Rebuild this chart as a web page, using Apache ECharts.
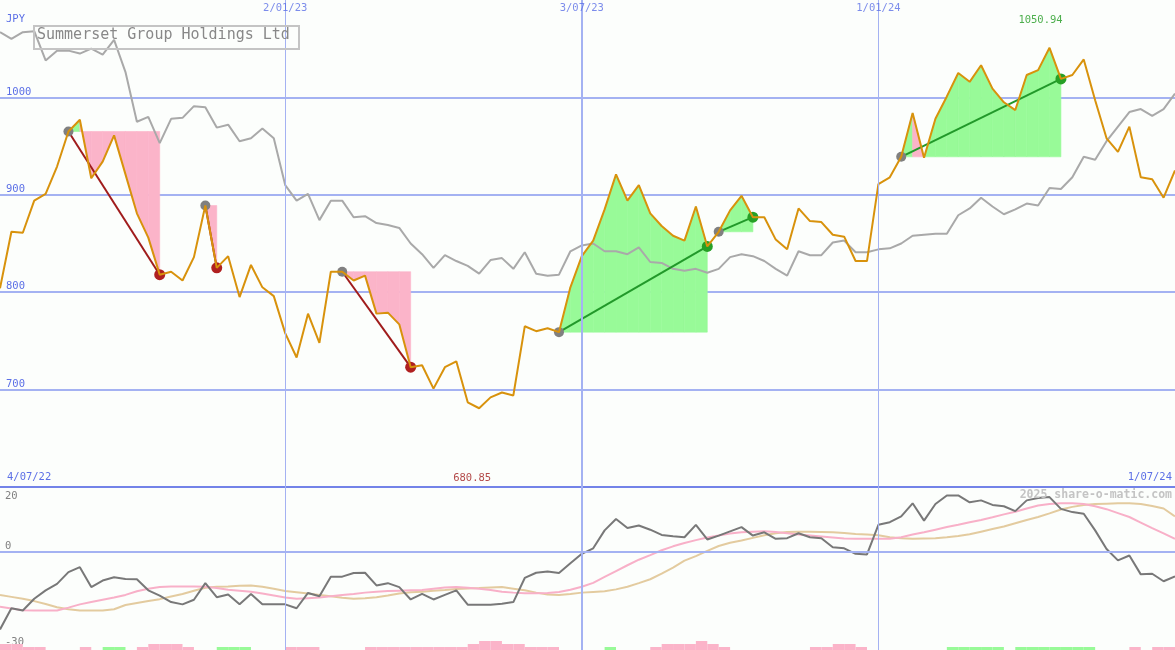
<!DOCTYPE html>
<html>
<head>
<meta charset="utf-8">
<script src="https://cdn.jsdelivr.net/npm/echarts@6/dist/echarts.min.js"></script>
<style>
html,body{margin:0;padding:0;background:#fcfefc;}
#chart{width:1175px;height:650px;}
</style>
</head>
<body>
<div id="chart"></div>
<script>
// ---- data (weekly points, index 0..103) ----
const price = [804,862,861,894,901,929,965,977,917,934,961,921,881,856,818,821,812,836,889,825,
837,795,828,805,796,758,733,778,748,821,821,812,817,778,779,767,723,725,701,723,
729,687,680.85,692,697,694,765,760,763,759,805,837,853,885,921,894,910,881,868,858,
853,888,847,862,884,899,877,877,854,844,886,873,872,859,857,832,832,911,918,939,
984,938,978,1001,1025,1016,1033,1009,995,987,1023,1028,1050.94,1019,1023,1039,997,958,944,970,
918,916,897,925];
const compare = [1067,1060,1067,1068,1038,1048,1048,1045,1050,1044,1059,1026,975,980,953,978,979,991,990,969,
972,955,958,968,958,910,894,901,874,894,894,877,878,871,869,866,850,839,825,838,
832,827,819,833,835,824,841,819,817,818,842,848,850,842,842,839,846,831,830,824,
822,824,820,824,836,839,837,832,824,817,842,838,838,851,853,841,841,844,845,850,
858,859,860,860,879,886,897,888,880,885,891,889,907,906,918,939,936,955,970,985,
988,981,988,1004];
const osc = [-23.7,-17.2,-17.9,-14.3,-11.7,-9.7,-6.1,-4.6,-10.7,-8.7,-7.7,-8.2,-8.3,-11.7,-13.3,-15.3,-16,-14.6,-9.5,-13.8,
-13,-16,-12.8,-16,-16,-16,-17.2,-12.5,-13.5,-7.5,-7.5,-6.4,-6.3,-10.2,-9.5,-10.7,-14.5,-12.8,-14.5,-13.1,
-11.7,-16.1,-16.1,-16.1,-15.8,-15.3,-7.9,-6.3,-5.9,-6.4,-3.4,-0.5,1.2,6.7,10.2,7.4,8.2,6.9,5.3,4.9,
4.6,8.4,3.9,5.1,6.4,7.7,5.1,6.1,4.1,4.3,5.8,4.6,4.3,1.5,1.2,-0.5,-0.7,8.4,9.2,11,
15,9.7,14.8,17.4,17.4,15.3,15.9,14.5,14.1,12.6,15.9,16.6,16.9,13.3,12.3,11.8,6.7,1,-2.5,-1,
-6.8,-6.6,-8.9,-7.4];
const maFast = [-16.7,-17.3,-17.8,-17.9,-17.9,-17.9,-17,-16,-15.3,-14.6,-13.9,-13.1,-12,-11.2,-10.7,-10.5,-10.5,-10.5,-10.6,-11,
-11.5,-11.8,-12.1,-12.7,-13.3,-13.9,-14.3,-14.1,-13.9,-13.5,-13.1,-12.8,-12.4,-12.1,-11.9,-11.8,-11.7,-11.6,-11.2,-10.8,
-10.7,-10.9,-11.2,-11.6,-12.1,-12.4,-12.6,-12.6,-12.5,-12.2,-11.5,-10.6,-9.4,-7.6,-5.8,-4,-2.3,-0.9,0.6,1.8,
2.8,3.7,4.5,5.1,5.7,6.1,6.3,6.4,6.2,5.8,5.4,5.1,4.8,4.5,4.2,4.1,4.1,4.1,4.1,4.6,
5.4,6.1,6.9,7.7,8.4,9.2,9.9,10.7,11.6,12.4,13.4,14.3,14.8,15,15,14.8,14.1,13.2,12,10.8,
9.1,7.4,5.8,4.1];
const maSlow = [-13.1,-13.7,-14.3,-15,-15.9,-16.9,-17.5,-17.9,-17.9,-17.9,-17.5,-16.2,-15.6,-15,-14.4,-13.6,-12.8,-11.8,-10.9,-10.6,
-10.5,-10.3,-10.2,-10.6,-11.2,-11.9,-12.3,-12.7,-13.1,-13.5,-14,-14.3,-14.1,-13.8,-13.3,-12.7,-12.3,-12.1,-11.8,-11.6,
-11.3,-11.1,-11,-10.8,-10.7,-11.2,-11.7,-12.4,-13,-13.1,-12.8,-12.4,-12.2,-12,-11.4,-10.6,-9.5,-8.3,-6.6,-4.7,
-2.6,-1.2,0.4,1.9,2.9,3.6,4.4,5.2,5.8,6.2,6.3,6.3,6.2,6.1,5.9,5.6,5.4,5.2,4.6,4.3,
4.1,4.2,4.3,4.6,5,5.5,6.3,7.1,7.9,8.9,9.9,10.8,11.9,13.1,13.9,14.5,14.8,14.9,15,15,
14.8,14.2,13.4,11];
const hist = [-2,-2,-1,-1,0,0,0,-1,0,1,1,0,-1,-2,-2,-2,-1,0,0,1,
1,1,0,0,0,-1,-1,-1,0,0,0,0,-1,-1,-1,-1,-1,-1,-1,-1,
-1,-2,-3,-3,-2,-2,-1,-1,-1,0,0,0,0,1,0,0,0,-1,-2,-2,
-2,-3,-2,-1,0,0,0,0,0,0,0,-1,-1,-2,-2,-1,0,0,0,0,
0,0,0,1,1,1,1,1,0,1,1,1,1,1,1,1,0,0,0,-1,
0,-1,-1,0];
const trendStart = [6, 18, 30, 49, 63, 79];
const trendEnd   = [14, 19, 36, 62, 66, 93];
const dateIdx    = [25, 51, 77];
const dateLabels = ['2/01/23', '3/07/23', '1/01/24'];
const rangeLabels = ['4/07/22', '1/07/24'];
const title = 'Summerset Group Holdings Ltd';
const currency = 'JPY';
const watermark = '2025 share-o-matic.com';

// ---- styling ----
const FONT = 'DejaVu Sans Mono';
const BLUE_TXT = '#5b6fe6';
const GRID_C = '#a4b2f2';
const PINK = '#fbb4c9';
const GREEN = '#98fa98';
const N = price.length - 1;
const maxI = price.indexOf(Math.max(...price));
const minI = price.indexOf(Math.min(...price));
const dateWidths = [1, 2, 1];

const chart = echarts.init(document.getElementById('chart'), null, {renderer: 'canvas'});

const vLines = dateIdx.map((x, k) => ({xAxis: x, lineStyle: {width: dateWidths[k], color: GRID_C, type: 'solid'}}));

const option = {
  animation: false,
  backgroundColor: '#fcfefc',
  grid: [
    {left: 0, right: 0, top: 0, height: 487},
    {left: 0, right: 0, top: 487, height: 163}
  ],
  xAxis: [
    {type: 'value', gridIndex: 0, min: 0, max: N, show: false, splitLine: {show: false}},
    {type: 'value', gridIndex: 1, min: 0, max: N, position: 'top',
     axisLine: {show: true, onZero: false, lineStyle: {color: '#7383e8', width: 2}},
     axisTick: {show: false}, axisLabel: {show: false}, splitLine: {show: false}}
  ],
  yAxis: [
    {type: 'value', gridIndex: 0, min: 600, max: 1100, interval: 100,
     axisLine: {show: false}, axisTick: {show: false},
     splitLine: {show: true, showMinLine: false, showMaxLine: false, lineStyle: {color: GRID_C, width: 2}},
     axisLabel: {inside: true, margin: 6, verticalAlign: 'bottom', color: BLUE_TXT,
       fontFamily: FONT, fontSize: 10.5,
       formatter: v => (v === 600 || v === 1100) ? '' : String(v)}},
    {type: 'value', gridIndex: 1, min: -30, max: 20, interval: 10,
     axisLine: {show: false}, axisTick: {show: false}, splitLine: {show: false},
     axisLabel: {inside: true, margin: 5, showMinLabel: true, showMaxLabel: true,
       color: '#808080', fontFamily: FONT, fontSize: 10.5,
       formatter: v => v === 20 ? '{t|20}' : (v === 0 ? '{z|0}' : (v === -30 ? '{b|-30}' : '')),
       rich: {
         t: {padding: [18, 0, 0, 0], color: '#808080', fontFamily: FONT, fontSize: 10.5},
         z: {padding: [0, 0, 12, 0], color: '#808080', fontFamily: FONT, fontSize: 10.5},
         b: {padding: [0, 0, 16, 0], color: '#808080', fontFamily: FONT, fontSize: 10.5}
       }}},
    {type: 'value', gridIndex: 1, min: 0, max: 163 / 3, show: false, splitLine: {show: false}}
  ],
  series: [
    // trend fills
    {
      type: 'custom', xAxisIndex: 0, yAxisIndex: 0, z: 1, silent: true,
      data: trendStart.map((s, k) => [s, trendEnd[k]]),
      encode: {x: [0, 1]},
      renderItem: function (params, api) {
        const s = api.value(0), e = api.value(1);
        const level = price[s];
        const children = [];
        for (let j = s; j < e; j++) {
          const pts = [api.coord([j, level]), api.coord([j, price[j]]),
                       api.coord([j + 1, price[j + 1]]), api.coord([j + 1, level])];
          children.push({type: 'polygon', shape: {points: pts},
            style: {fill: price[j + 1] >= level ? GREEN : PINK, stroke: price[j + 1] >= level ? GREEN : PINK, lineWidth: 0.6}});
        }
        return {type: 'group', children: children};
      }
    },
    // comparison line
    {
      type: 'line', xAxisIndex: 0, yAxisIndex: 0, z: 2, silent: true,
      data: compare.map((v, i) => [i, v]), symbol: 'none',
      lineStyle: {color: '#a9a9a9', width: 2},
      markLine: {silent: true, symbol: ['none', 'none'], label: {show: false}, data: vLines}
    },
    // trend lines + dots
    {
      type: 'custom', xAxisIndex: 0, yAxisIndex: 0, z: 3, silent: true,
      data: trendStart.map((s, k) => [s, trendEnd[k]]),
      encode: {x: [0, 1]},
      renderItem: function (params, api) {
        const s = api.value(0), e = api.value(1);
        const up = price[e] > price[s];
        const a = api.coord([s, price[s]]), b = api.coord([e, price[e]]);
        return {type: 'group', children: [
          {type: 'line', shape: {x1: a[0], y1: a[1], x2: b[0], y2: b[1]},
           style: {stroke: up ? '#22992a' : '#a01c1c', lineWidth: 2}},
          {type: 'circle', shape: {cx: a[0], cy: a[1], r: 5}, style: {fill: '#808080'}},
          {type: 'circle', shape: {cx: b[0], cy: b[1], r: 5.5}, style: {fill: up ? '#26a026' : '#b02020'}}
        ]};
      }
    },
    // price line
    {
      type: 'line', xAxisIndex: 0, yAxisIndex: 0, z: 4, silent: true,
      data: price.map((v, i) => [i, v]), symbol: 'none',
      lineStyle: {color: '#d8920c', width: 2}
    },
    // date labels at top + max/min labels
    {
      type: 'scatter', xAxisIndex: 0, yAxisIndex: 0, z: 5, silent: true, clip: false, symbolSize: 0,
      data: dateIdx.map((x, k) => ({value: [x, 1100], name: dateLabels[k]})),
      label: {show: true, position: 'bottom', distance: 3, formatter: p => p.name,
        color: BLUE_TXT, fontFamily: FONT, fontSize: 10.5}
    },
    {
      type: 'scatter', xAxisIndex: 0, yAxisIndex: 0, z: 5, silent: true, clip: false, symbolSize: 0,
      data: [{value: [maxI, 1100], name: price[maxI].toFixed(2)}],
      label: {show: true, position: 'bottom', distance: 15, offset: [-9, 0], formatter: p => p.name,
        color: '#1f9a1f', fontFamily: FONT, fontSize: 10.5}
    },
    {
      type: 'scatter', xAxisIndex: 0, yAxisIndex: 0, z: 5, silent: true, clip: false, symbolSize: 0,
      data: [{value: [minI, 600], name: price[minI].toFixed(2)}],
      label: {show: true, position: 'top', distance: 3, offset: [-7, 0], formatter: p => p.name,
        color: '#a01c1c', fontFamily: FONT, fontSize: 10.5}
    },
    // lower panel: histogram
    {
      type: 'custom', xAxisIndex: 1, yAxisIndex: 2, z: 1, silent: true,
      data: hist.map((v, i) => [i, v]),
      encode: {x: 0, y: 1},
      renderItem: function (params, api) {
        const i = api.value(0), v = api.value(1);
        if (!v) return null;
        const p0 = api.coord([i, 0]), p1 = api.coord([i + 1, Math.abs(v)]);
        return {type: 'rect', shape: {x: p0[0], y: p1[1], width: p1[0] - p0[0], height: p0[1] - p1[1]},
          style: {fill: v > 0 ? GREEN : PINK}};
      }
    },
    {
      type: 'line', xAxisIndex: 1, yAxisIndex: 1, z: 2, silent: true,
      data: maSlow.map((v, i) => [i, v]), symbol: 'none',
      lineStyle: {color: '#e3cb9f', width: 2},
      markLine: {silent: true, symbol: ['none', 'none'], label: {show: false},
        data: vLines.concat([{yAxis: 0, lineStyle: {color: GRID_C, width: 2, type: 'solid'}}])}
    },
    {
      type: 'line', xAxisIndex: 1, yAxisIndex: 1, z: 3, silent: true,
      data: maFast.map((v, i) => [i, v]), symbol: 'none',
      lineStyle: {color: '#f8b0c8', width: 2}
    },
    {
      type: 'line', xAxisIndex: 1, yAxisIndex: 1, z: 4, silent: true,
      data: osc.map((v, i) => [i, v]), symbol: 'none',
      lineStyle: {color: '#787878', width: 2}
    }
  ],
  graphic: [
    {type: 'rect', left: 33, top: 25, z: 100, silent: true,
     shape: {width: 265, height: 23}, style: {fill: 'rgba(0,0,0,0)', stroke: '#c4c4c4', lineWidth: 2}},
    {type: 'text', left: 37, top: 28, z: 101, silent: true,
     style: {text: title, fill: '#888888', font: '15px "DejaVu Sans Mono"'}},
    {type: 'text', left: 6, top: 14, z: 101, silent: true,
     style: {text: currency, fill: BLUE_TXT, font: '10.5px "DejaVu Sans Mono"'}},
    {type: 'text', left: 7, top: 472, z: 101, silent: true,
     style: {text: rangeLabels[0], fill: BLUE_TXT, font: '10.5px "DejaVu Sans Mono"'}},
    {type: 'text', right: 3, top: 472, z: 101, silent: true,
     style: {text: rangeLabels[1], fill: BLUE_TXT, font: '10.5px "DejaVu Sans Mono"'}},
    {type: 'text', right: 3, top: 489, z: 101, silent: true,
     style: {text: watermark, fill: '#c4c4c4', font: 'bold 11.5px "DejaVu Sans Mono"'}}
  ]
};
chart.setOption(option);
</script>
</body>
</html>
